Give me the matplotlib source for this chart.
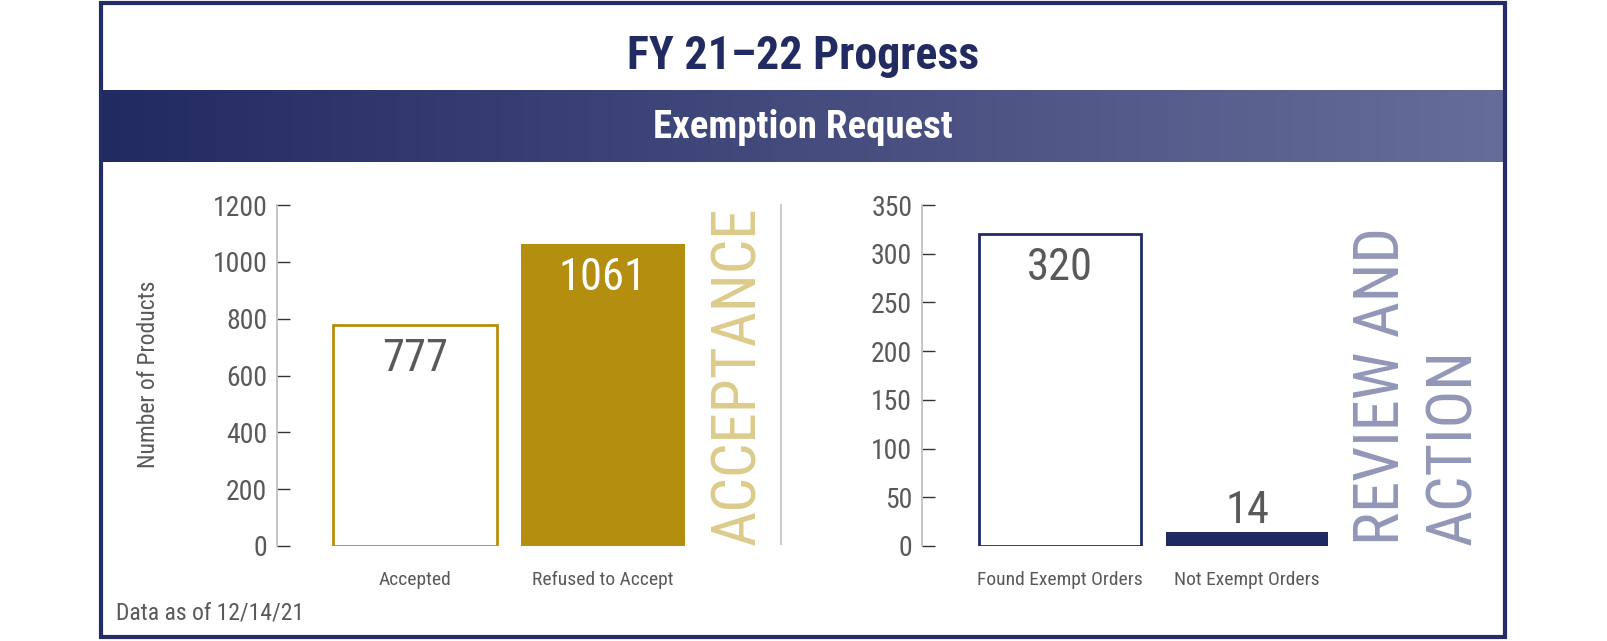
import matplotlib
matplotlib.use('Agg')
import matplotlib.pyplot as plt
from matplotlib import font_manager
from matplotlib.patches import Rectangle
from matplotlib.lines import Line2D
import numpy as np

# data
left_cats = ['Accepted', 'Refused to Accept']
left_vals = [777, 1061]
left_ticks = [0, 200, 400, 600, 800, 1000, 1200]
right_cats = ['Found Exempt Orders', 'Not Exempt Orders']
right_vals = [320, 14]
right_ticks = [0, 50, 100, 150, 200, 250, 300, 350]

W, H = 1608, 641
GOLD = '#b48e0e'
NAVY = '#222a62'
GRAY = '#595959'


def pick_font(names):
    for n in names:
        try:
            font_manager.findfont(n, fallback_to_default=False)
            return n
        except Exception:
            pass
    return 'DejaVu Sans'

FONT = pick_font(['Liberation Sans Narrow', 'Roboto Condensed', 'Open Sans Condensed', 'Liberation Sans'])
plt.rcParams['font.family'] = FONT


def px_box(x0, y0, x1, y1):
    # pixel box (top-left origin) -> figure fraction rect
    return [x0 / W, 1 - y1 / H, (x1 - x0) / W, (y1 - y0) / H]


def fx(x):
    return x / W


def fy(y):
    return 1 - y / H


fig = plt.figure(figsize=(W / 100, H / 100), dpi=100)
fig.patch.set_facecolor('white')

# banner with gradient
bax = fig.add_axes(px_box(100, 90, 1507, 162))
grad = np.linspace(0, 1, 256).reshape(1, -1)
cmap = matplotlib.colors.LinearSegmentedColormap.from_list('ban', ['#222a62', '#676d99'])
bax.imshow(grad, aspect='auto', cmap=cmap, extent=[0, 1, 0, 1])
bax.set_axis_off()

fig.text(fx(803), fy(56), 'FY 21\u201322 Progress', ha='center', va='center',
         fontsize=33, fontweight='bold', color=NAVY)
fig.text(fx(803), fy(127), 'Exemption Request', ha='center', va='center',
         fontsize=28, fontweight='bold', color='white')


def draw_bars(ax, cats, vals, ticks, edge, fill, xlim):
    x = np.arange(len(cats))
    ax.bar(x[0], vals[0], width=0.87, facecolor='white', edgecolor=edge, linewidth=2)
    ax.bar(x[1], vals[1], width=0.87, facecolor=fill, edgecolor=fill, linewidth=0)
    ax.set_xlim(xlim)
    ax.set_ylim(ticks[0], ticks[-1])
    ax.set_yticks(ticks)
    ax.set_xticks(x)
    ax.set_xticklabels(cats, fontsize=14, color=GRAY)
    for s in ['top', 'right', 'bottom']:
        ax.spines[s].set_visible(False)
    ax.spines['left'].set_color('#bbbbbb')
    ax.spines['left'].set_linewidth(1.2)
    ax.tick_params(axis='y', direction='in', length=9, width=1, color='#333333',
                   labelsize=20, labelcolor=GRAY, pad=7)
    ax.tick_params(axis='x', length=0, pad=18)
    ax.set_facecolor('none')
    return x


# left chart
lax = fig.add_axes(px_box(277, 205, 700, 546))
x = draw_bars(lax, left_cats, left_vals, left_ticks, GOLD, GOLD, (-0.734, 1.516))
lax.annotate(str(left_vals[0]), (x[0], left_vals[0]), xytext=(0, -9), textcoords='offset points',
             ha='center', va='top', fontsize=32, color=GRAY)
lax.annotate(str(left_vals[1]), (x[1], left_vals[1]), xytext=(0, -9), textcoords='offset points',
             ha='center', va='top', fontsize=32, color='white')

fig.text(fx(149), fy(374), 'Number of Products', rotation=90, ha='center', va='center',
         fontsize=17, color=GRAY)
fig.text(fx(738), fy(545), 'ACCEPTANCE', rotation=90, ha='center', va='bottom',
         fontsize=44, color='#dccb8a')
fig.add_artist(Line2D([fx(781), fx(781)], [fy(205), fy(544)], color='#cccccc', linewidth=1.5))

# right chart
rax = fig.add_axes(px_box(922, 205, 1340, 546))
x = draw_bars(rax, right_cats, right_vals, right_ticks, NAVY, '#1f2a63', (-0.738, 1.497))
rax.annotate(str(right_vals[0]), (x[0], right_vals[0]), xytext=(0, -9), textcoords='offset points',
             ha='center', va='top', fontsize=32, color=GRAY)
rax.annotate(str(right_vals[1]), (x[1], right_vals[1]), xytext=(0, 0), textcoords='offset points',
             ha='center', va='bottom', fontsize=32, color=GRAY)

fig.text(fx(1382), fy(545), 'REVIEW AND', rotation=90, ha='center', va='bottom',
         fontsize=45, color='#9297b8')
fig.text(fx(1454), fy(545), 'ACTION', rotation=90, ha='center', va='bottom',
         fontsize=45, color='#9297b8')

fig.text(fx(116), fy(613), 'Data as of 12/14/21', ha='left', va='center',
         fontsize=17, color=GRAY)

# outer frame
fig.add_artist(Rectangle((fx(101), fy(637)), fx(1505) - fx(101), fy(3) - fy(637),
                         transform=fig.transFigure, fill=False, edgecolor='#232c66', linewidth=3))

fig.savefig('out.png', dpi=100, facecolor='white')
